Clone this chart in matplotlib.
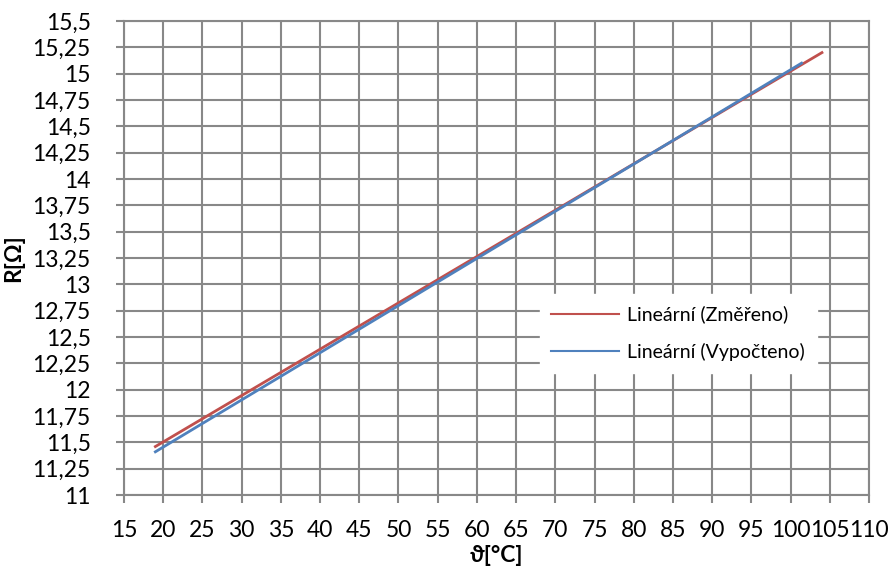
import numpy as np
import matplotlib.pyplot as plt

# Lineární trendy (koncové body)
teplota_zmereno = [19, 104]
odpor_zmereno = [11.46, 15.20]
teplota_vypocteno = [19, 101.4]
odpor_vypocteno = [11.41, 15.10]

x_ticks = list(range(15, 115, 5))
y_ticks = [11 + 0.25 * i for i in range(19)]

plt.rcParams['font.family'] = ['Lato', 'DejaVu Sans']

fig = plt.figure(figsize=(8.93, 5.85), dpi=100)
ax = fig.add_axes([124 / 893, 90 / 585, 745 / 893, 474 / 585])

ax.plot(teplota_zmereno, odpor_zmereno, color='#c0504d', lw=2, label='Lineární (Změřeno)')
ax.plot(teplota_vypocteno, odpor_vypocteno, color='#4f81bd', lw=2, label='Lineární (Vypočteno)')

ax.set_xlim(15, 110)
ax.set_ylim(11, 15.5)
ax.set_xticks(x_ticks)
ax.set_yticks(y_ticks)
ax.set_xticklabels([str(t) for t in x_ticks])
ax.set_yticklabels([('%g' % t).replace('.', ',') for t in y_ticks])
ax.tick_params(axis='both', length=6, width=1.5, color='#888888', labelsize=16.5)
ax.tick_params(axis='x', pad=12)
ax.tick_params(axis='y', pad=18)
ax.grid(True, color='#888888', lw=1.5)
ax.set_axisbelow(True)
for s in ax.spines.values():
    s.set_color('#888888')
    s.set_linewidth(1.5)

ax.set_xlabel('ϑ[°C]', fontsize=16.5, fontweight='bold', labelpad=3)
ax.set_ylabel('R[Ω]', fontsize=16.5, fontweight='bold', labelpad=6)

leg = ax.legend(loc='upper left', bbox_to_anchor=(0.545, 0.445), frameon=True,
                fontsize=14, handlelength=3.5, handletextpad=0.4, borderpad=0.6,
                labelspacing=1.0, fancybox=False)
leg.get_frame().set_edgecolor('white')
leg.get_frame().set_facecolor('white')
leg.get_frame().set_alpha(1)
for line in leg.get_lines():
    line.set_linewidth(1.5)

fig.savefig('out.png', dpi=100)
